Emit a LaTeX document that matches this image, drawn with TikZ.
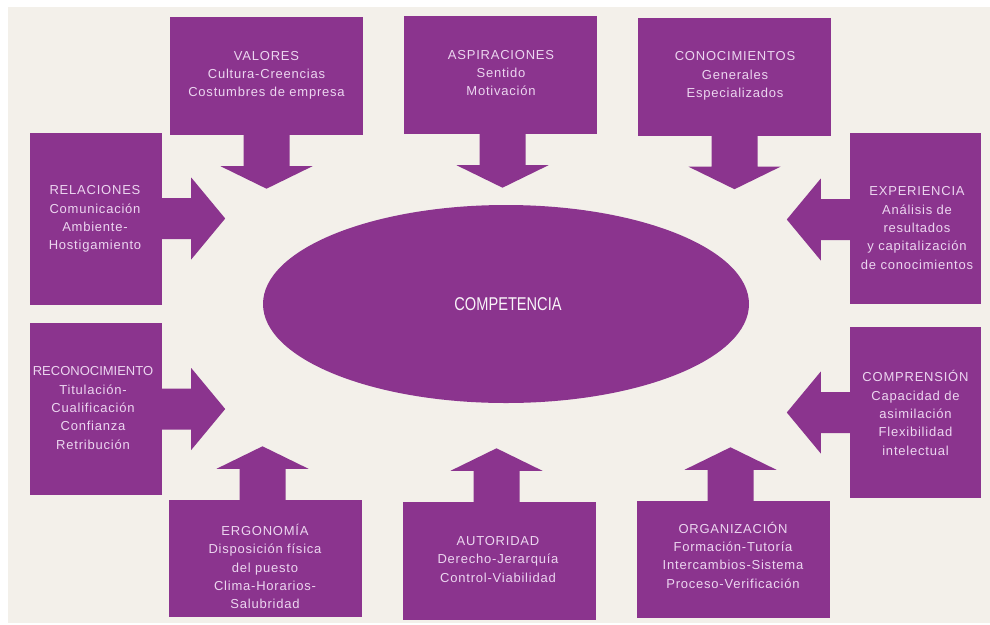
\documentclass[tikz,border=0pt]{standalone}
\usepackage{fontspec}
\setmainfont{Liberation Sans}
\newfontfamily\lsfont[LetterSpace=6]{Liberation Sans}
\newfontfamily\plainsf{Liberation Sans}
\newfontfamily\condfont[FakeStretch=0.79]{Liberation Sans}
\definecolor{purp}{RGB}{139,52,142}
\definecolor{txtc}{RGB}{236,214,240}
\definecolor{bgc}{RGB}{243,240,234}
\tikzset{
  box/.style={fill=purp, draw=none, inner sep=0pt},
  topbox/.style={box, minimum width=193pt, minimum height=118pt},
  sidebox/.style={box, minimum width=132pt, minimum height=172pt},
  txt/.style={text=txtc, align=center, inner sep=0pt, font=\lsfont\fontsize{13}{18.3}\selectfont},
  harr/.pic={\fill[purp] (-1,-20.5) -- (29,-20.5) -- (29,-41) -- (63,0) -- (29,41) -- (29,20.5) -- (-1,20.5) -- cycle;},
  varr/.pic={\fill[purp] (-1,-23) -- (31,-23) -- (31,-46) -- (53.5,0) -- (31,46) -- (31,23) -- (-1,23) -- cycle;}
}
\begin{document}
\begin{tikzpicture}[x=1pt,y=-1pt]
\useasboundingbox (0,0) rectangle (990,624);
\fill[white] (0,0) rectangle (990,624);
\fill[bgc] (8,7) rectangle (990,623);
% central ellipse
\fill[purp] (506,304) ellipse [x radius=243, y radius=99];
\node[text=white!95!purp, font=\condfont\fontsize{18.5}{20}\selectfont] (comp) at (508,304) {COMPETENCIA};
% boxes
\node[topbox] (valores) at (266.5,76) {};
\node[topbox] (aspir) at (500,75) {};
\node[topbox] (conoc) at (734.5,76.5) {};
\node[sidebox] (relac) at (96,218.5) {};
\node[sidebox, minimum width=131pt, minimum height=171pt] (exper) at (915.5,218.5) {};
\node[sidebox] (recon) at (96,409) {};
\node[sidebox, minimum width=131pt, minimum height=171pt] (compr) at (915.5,412.5) {};
\node[topbox, minimum height=117pt] (ergo) at (265,558.5) {};
\node[topbox] (autor) at (499,561) {};
\node[topbox, minimum height=117pt] (organ) at (733.5,559.5) {};
% arrows
\pic[rotate=-90] at (valores.south) {varr};
\pic[rotate=-90] at ([xshift=2.5pt]aspir.south) {varr};
\pic[rotate=-90] at (conoc.south) {varr};
\pic at (relac.east) {harr};
\pic[rotate=180] at ([yshift=-1pt]exper.west) {harr};
\pic at (recon.east) {harr};
\pic[rotate=180] at (compr.west) {harr};
\pic[rotate=90] at ([xshift=-2.5pt]ergo.north) {varr};
\pic[rotate=90] at ([xshift=-2.5pt]autor.north) {varr};
\pic[rotate=90] at ([xshift=-3pt]organ.north) {varr};
% texts
\node[txt] (valores-t) at (266.5,75.5) {VALORES\\Cultura-Creencias\\Costumbres de empresa};
\node[txt] (aspir-t) at (501,73) {ASPIRACIONES\\Sentido\\Motivación};
\node[txt] (conoc-t) at (735,76) {CONOCIMIENTOS\\Generales\\Especializados};
\node[txt] (relac-t) at (95,219) {RELACIONES\\Comunicación\\Ambiente-\\Hostigamiento};
\node[txt] (exper-t) at (917,228) {EXPERIENCIA\\Análisis de\\resultados\\y capitalización\\de conocimientos};
\node[txt] (recon-t) at (93,408) {{\plainsf RECONOCIMIENTO}\\Titulación-\\Cualificación\\Confianza\\Retribución};
\node[txt] (compr-t) at (915.5,413) {COMPRENSIÓN\\Capacidad de\\asimilación\\Flexibilidad\\intelectual};
\node[txt] (ergo-t) at (265,566.5) {ERGONOMÍA\\Disposición física\\del puesto\\Clima-Horarios-\\Salubridad};
\node[txt] (autor-t) at (498,559.5) {AUTORIDAD\\Derecho-Jerarquía\\Control-Viabilidad};
\node[txt] (organ-t) at (733,555) {ORGANIZACIÓN\\Formación-Tutoría\\Intercambios-Sistema\\Proceso-Verificación};
\end{tikzpicture}
\end{document}
